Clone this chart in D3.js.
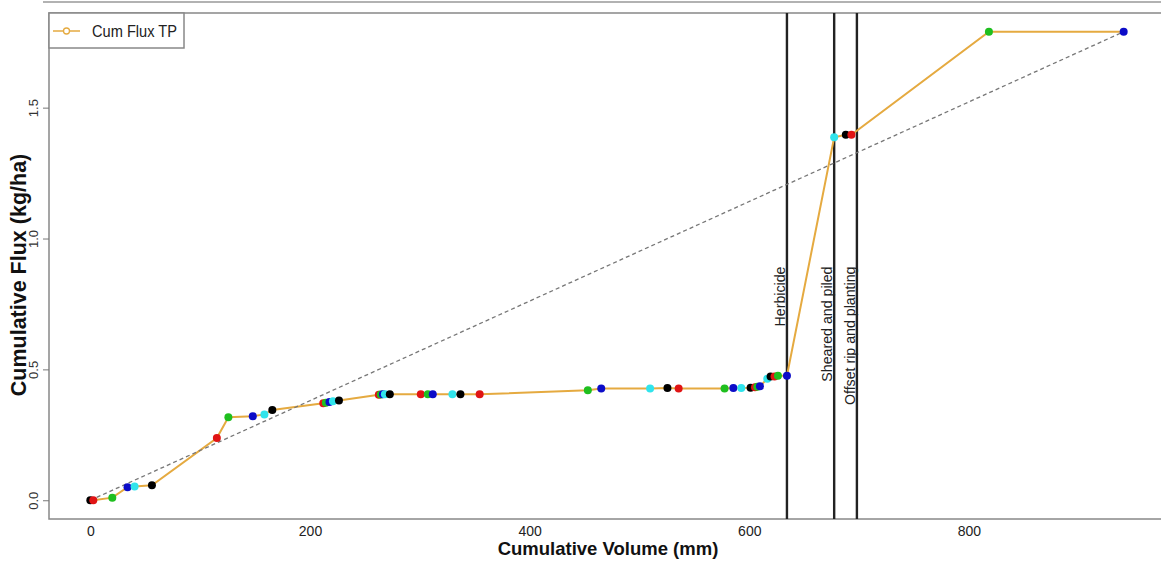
<!DOCTYPE html>
<html>
<head>
<meta charset="utf-8">
<script src="https://cdn.jsdelivr.net/npm/d3@7"></script>
<style>
  body { margin: 0; background: #fff; }
  svg { display: block; font-family: "Liberation Sans", Arial, sans-serif; }
</style>
</head>
<body>
<svg id="chart" width="1161" height="561"></svg>
<script>
// cumulative volume (mm) and cumulative TP flux (kg/ha) for each sample
const volume = [0, 2.7, 20, 33.9, 40.3, 56.1, 115.2, 125.7, 147.9, 158.5, 165.7,
  212.1, 214.5, 217.7, 220.9, 226.4, 262.7, 264.5, 266.4, 268.2, 272.7,
  300.9, 307.3, 311.8, 329.7, 337, 354.5, 453, 465.2, 509.7, 525.5, 535.7,
  577.5, 585.5, 592.7, 601.2, 605.2, 607.3, 609.7, 616.4, 619.4, 623, 626.1,
  634.3, 677.3, 687.9, 693, 818.2, 940.9];
const flux = [0, 0, 0.010, 0.050, 0.053, 0.057, 0.238, 0.317, 0.321, 0.328, 0.345,
  0.371, 0.373, 0.375, 0.378, 0.381, 0.403, 0.404, 0.405, 0.405, 0.405,
  0.405, 0.405, 0.405, 0.405, 0.405, 0.405, 0.420, 0.427, 0.427, 0.429, 0.427,
  0.427, 0.429, 0.429, 0.430, 0.432, 0.434, 0.436, 0.464, 0.473, 0.473, 0.476,
  0.476, 1.387, 1.396, 1.396, 1.790, 1.790];
// point colours cycle through R palette 1..5
const palette = ['#000000', '#e01414', '#1fbf1f', '#0c0cc8', '#30e4ec'];

const events = ['Herbicide', 'Sheared and piled', 'Offset rip and planting'];
const eventVolume = [634.3, 677.3, 698];
const eventLabelY = 0.893;

const xTicks = [0, 200, 400, 600, 800];
const yTicks = [0, 0.5, 1.0, 1.5];

const seriesName = 'Cum Flux TP';
const lineColor = '#e5aa40';

const data = volume.map((v, i) => ({ v, f: flux[i], c: palette[i % 5] }));

const svg = d3.select('#chart');
const boxLeft = 49, boxTop = 13, boxBottom = 519, boxRight = 1165;

// R style 4% padding on both axes
const xMax = d3.max(volume), yMax = d3.max(flux);
const x = d3.scaleLinear()
  .domain([-0.04 * xMax, xMax * 1.04])
  .range([boxLeft, boxRight]);
const y = d3.scaleLinear()
  .domain([-0.04 * yMax, yMax * 1.04])
  .range([boxBottom, boxTop]);

// strip of the panel above, cut off
svg.append('line')
  .attr('x1', 43).attr('x2', 1161).attr('y1', 2).attr('y2', 2)
  .style('stroke', '#999').style('stroke-width', 1.5);

// plot box
svg.append('rect')
  .attr('x', boxLeft).attr('y', boxTop)
  .attr('width', boxRight - boxLeft).attr('height', boxBottom - boxTop)
  .style('fill', 'none').style('stroke', '#888').style('stroke-width', 1.5);

// x axis (labels only)
const xAxis = svg.append('g')
  .attr('transform', `translate(0,${boxBottom})`)
  .call(d3.axisBottom(x).tickValues(xTicks).tickSize(0).tickPadding(7).tickFormat(d3.format('d')));
xAxis.select('.domain').remove();
xAxis.selectAll('text').style('font-size', '14px').style('fill', '#222').style('font-family', 'Liberation Sans, Arial, sans-serif');

// y axis, labels rotated like base R
const yAxis = svg.append('g')
  .attr('transform', `translate(${boxLeft},0)`)
  .call(d3.axisLeft(y).tickValues(yTicks).tickSize(6).tickFormat(d3.format('.1f')));
yAxis.select('.domain').remove();
yAxis.selectAll('line').style('stroke', '#777');
yAxis.selectAll('text')
  .attr('x', null).attr('dy', null)
  .attr('transform', 'translate(-11,0) rotate(-90)')
  .attr('text-anchor', 'middle')
  .style('font-size', '13px').style('fill', '#333').style('font-family', 'Liberation Sans, Arial, sans-serif');

// axis titles
svg.append('text')
  .attr('x', 608).attr('y', 555)
  .attr('text-anchor', 'middle')
  .style('font-size', '18.5px').style('font-weight', 'bold').style('fill', '#111')
  .text('Cumulative Volume (mm)');
svg.append('text')
  .attr('transform', 'translate(26,275) rotate(-90)')
  .attr('text-anchor', 'middle')
  .style('font-size', '21.5px').style('font-weight', 'bold').style('fill', '#111')
  .text('Cumulative Flux (kg/ha)');

// management events
const ev = svg.append('g');
ev.selectAll('line').data(eventVolume).enter().append('line')
  .attr('x1', d => x(d)).attr('x2', d => x(d))
  .attr('y1', boxTop).attr('y2', boxBottom)
  .style('stroke', '#222').style('stroke-width', 2.4);
ev.selectAll('text').data(events).enter().append('text')
  .attr('transform', (d, i) => `translate(${x(eventVolume[i]) - 2},${y(eventLabelY)}) rotate(-90)`)
  .attr('text-anchor', 'end')
  .style('font-size', '14.2px').style('fill', '#222')
  .text(d => d);

// series line
svg.append('path')
  .datum(data)
  .attr('d', d3.line().x(d => x(d.v)).y(d => y(d.f)))
  .style('fill', 'none').style('stroke', lineColor).style('stroke-width', 2);

// 1:1 reference from origin to last point
const last = data[data.length - 1];
svg.append('line')
  .attr('x1', x(0)).attr('y1', y(0))
  .attr('x2', x(last.v)).attr('y2', y(last.f))
  .style('stroke', '#777').style('stroke-width', 1.3).style('stroke-dasharray', '4,3');

// points
svg.append('g').selectAll('circle').data(data).enter().append('circle')
  .attr('cx', d => x(d.v)).attr('cy', d => y(d.f)).attr('r', 4)
  .style('fill', d => d.c);

// legend
const lg = svg.append('g');
lg.append('rect')
  .attr('x', boxLeft).attr('y', boxTop).attr('width', 135).attr('height', 35)
  .style('fill', '#fff').style('stroke', '#888').style('stroke-width', 1.5);
lg.append('line')
  .attr('x1', 53).attr('x2', 80).attr('y1', 31).attr('y2', 31)
  .style('stroke', lineColor).style('stroke-width', 1.5);
lg.append('circle')
  .attr('cx', 66.5).attr('cy', 31).attr('r', 3)
  .style('fill', '#fff').style('stroke', lineColor).style('stroke-width', 1.3);
lg.append('text')
  .attr('x', 92).attr('y', 37)
  .attr('textLength', 85).attr('lengthAdjust', 'spacingAndGlyphs')
  .style('font-size', '16.5px').style('fill', '#222')
  .text(seriesName);
</script>
</body>
</html>
